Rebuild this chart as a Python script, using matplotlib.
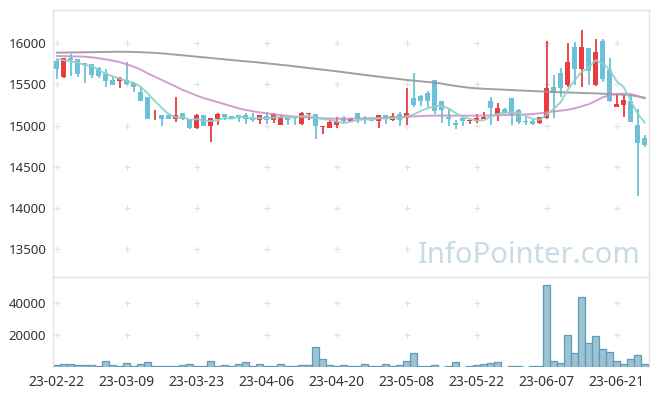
import matplotlib
matplotlib.use("Agg")
import matplotlib.pyplot as plt
import numpy as np

plt.rcParams['font.family'] = ['Noto Sans', 'DejaVu Sans']

# trading days shown on the axis (every 10th candle)
tick_labels = ['23-02-22', '23-03-09', '23-03-23', '23-04-06', '23-04-20',
               '23-05-08', '23-05-22', '23-06-07', '23-06-21']

opens = [15789, 15595, 15822, 15810, 15757, 15749, 15704, 15644, 15555, 15546,
         15559, 15514, 15413, 15348, 15125, 15129, 15129, 15085, 15150, 15085,
         14975, 15125, 15000, 15085, 15137, 15113, 15125, 15125, 15094, 15066,
         15114, 15066, 15006, 15106, 15102, 15022, 15138, 15146, 14982, 14970,
         15006, 15094, 15058, 15158, 15098, 15094, 15054, 15134, 15074, 15146,
         15094, 15339, 15355, 15395, 15555, 15303, 15109, 15036, 15097, 15061,
         15061, 15077, 15299, 15145, 15198, 15332, 15186, 15056, 15060, 15028,
         15097, 15465, 15644, 15494, 15959, 15688, 15943, 15494, 16032, 15676,
         15222, 15251, 15299, 15008, 14850]
highs = [15810, 15818, 15866, 15810, 15757, 15749, 15716, 15688, 15587, 15587,
         15777, 15526, 15474, 15348, 15190, 15129, 15129, 15344, 15150, 15085,
         15141, 15125, 15097, 15150, 15137, 15113, 15125, 15157, 15154, 15134,
         15167, 15154, 15126, 15106, 15102, 15167, 15158, 15146, 14998, 15074,
         15102, 15114, 15090, 15158, 15118, 15094, 15134, 15134, 15154, 15162,
         15453, 15635, 15375, 15415, 15555, 15303, 15198, 15070, 15097, 15069,
         15137, 15170, 15344, 15279, 15210, 15332, 15198, 15101, 15080, 15101,
         16032, 15615, 15696, 16000, 16012, 16162, 15943, 16053, 16053, 15826,
         15392, 15368, 15360, 15198, 14886]
lows = [15563, 15575, 15603, 15595, 15514, 15575, 15575, 15474, 15494, 15453,
        15494, 15413, 15303, 15085, 15069, 15000, 15085, 15048, 15069, 14959,
        14955, 15000, 14797, 15004, 15069, 15077, 15044, 15014, 15042, 15014,
        15014, 15026, 15006, 15006, 15006, 15010, 15074, 14833, 14894, 14970,
        14970, 15034, 15050, 15034, 15014, 15054, 14974, 15014, 15054, 14994,
        15002, 15230, 15235, 15230, 15141, 15028, 14996, 14955, 14996, 15020,
        15028, 15077, 15004, 15056, 15150, 15004, 15016, 15004, 15010, 15016,
        15081, 15089, 15352, 15474, 15494, 15474, 15494, 15482, 15534, 15291,
        15222, 15109, 15048, 14145, 14745]
closes = [15692, 15818, 15798, 15631, 15737, 15619, 15607, 15542, 15494, 15583,
          15506, 15474, 15303, 15085, 15130, 15085, 15085, 15129, 15077, 14975,
          15125, 15000, 15097, 15141, 15101, 15085, 15105, 15077, 15066, 15134,
          15066, 15142, 15106, 15074, 15090, 15158, 15158, 14994, 14998, 15038,
          15062, 15062, 15086, 15094, 15074, 15054, 15134, 15082, 15122, 15066,
          15154, 15250, 15295, 15295, 15182, 15190, 15081, 15008, 15056, 15069,
          15093, 15105, 15218, 15214, 15150, 15129, 15048, 15048, 15024, 15101,
          15453, 15393, 15461, 15769, 15688, 15959, 15668, 15895, 15563, 15303,
          15263, 15311, 15048, 14793, 14769]

volumes = [1050, 1680, 1680, 1050, 1050, 1050, 300, 3580, 1050, 420,
           2300, 420, 1680, 2950, 420, 420, 420, 420, 1050, 1680,
           420, 420, 3580, 420, 1050, 420, 1680, 2950, 420, 1680,
           420, 420, 1680, 420, 420, 1050, 1050, 12400, 4840, 1050,
           420, 1050, 420, 420, 1680, 420, 420, 1680, 420, 1050,
           3580, 8630, 420, 420, 1050, 100, 420, 2950, 100, 420,
           1050, 1680, 2300, 2950, 100, 420, 420, 100, 420, 420,
           51150, 3580, 2300, 20000, 8630, 43370, 14950, 19370, 11160, 9260,
           3580, 1680, 4840, 7370, 1680]

ma5 = [15806, 15795, 15782, 15765, 15735, 15721, 15678, 15627, 15600, 15569,
       15546, 15520, 15472, 15390, 15300, 15215, 15138, 15103, 15101, 15070,
       15078, 15061, 15055, 15068, 15093, 15085, 15106, 15102, 15087, 15093,
       15090, 15097, 15103, 15104, 15096, 15114, 15117, 15095, 15080, 15069,
       15050, 15031, 15049, 15068, 15076, 15074, 15088, 15088, 15093, 15092,
       15112, 15135, 15177, 15212, 15235, 15242, 15209, 15151, 15103, 15081,
       15061, 15066, 15108, 15140, 15156, 15163, 15152, 15118, 15080, 15070,
       15135, 15204, 15286, 15435, 15553, 15654, 15709, 15796, 15755, 15678,
       15538, 15467, 15298, 15144, 15037]
ma20 = [15846, 15844, 15842, 15840, 15838, 15830, 15818, 15805, 15790, 15772,
        15745, 15717, 15680, 15635, 15595, 15555, 15515, 15475, 15433, 15400,
        15365, 15335, 15310, 15285, 15260, 15235, 15210, 15190, 15175, 15160,
        15149, 15138, 15128, 15118, 15110, 15103, 15098, 15093, 15089, 15086,
        15084, 15084, 15085, 15087, 15089, 15090, 15093, 15097, 15100, 15104,
        15108, 15112, 15116, 15120, 15122, 15122, 15122, 15121, 15121, 15121,
        15121, 15122, 15124, 15126, 15128, 15130, 15133, 15136, 15140, 15150,
        15162, 15172, 15182, 15193, 15210, 15235, 15260, 15300, 15344, 15370,
        15384, 15388, 15384, 15360, 15332]
ma60 = [15887, 15888, 15889, 15890, 15891, 15892, 15894, 15895, 15897, 15898,
        15897, 15895, 15892, 15888, 15884, 15878, 15870, 15862, 15855, 15846,
        15838, 15830, 15822, 15813, 15805, 15797, 15789, 15781, 15774, 15766,
        15757, 15748, 15739, 15730, 15720, 15710, 15700, 15690, 15680, 15670,
        15660, 15649, 15638, 15627, 15616, 15605, 15595, 15585, 15575, 15565,
        15555, 15547, 15538, 15530, 15523, 15510, 15495, 15482, 15470, 15460,
        15453, 15448, 15444, 15440, 15436, 15432, 15428, 15424, 15420, 15416,
        15412, 15409, 15406, 15403, 15400, 15397, 15394, 15392, 15388, 15384,
        15380, 15375, 15370, 15355, 15339]

price_ticks = [13500, 14000, 14500, 15000, 15500, 16000]
vol_ticks = [20000, 40000]

UP = '#ec3b3f'
DOWN = '#6cc0da'
FRAME = '#e3e3e3'
GRID = '#e0e0e0'

x = np.arange(len(closes))
o = np.array(opens)
c = np.array(closes)
colors = [UP if cc >= oo else DOWN for oo, cc in zip(o, c)]
body_bottom = np.minimum(o, c)
body_h = np.maximum(np.abs(c - o), 6)

fig = plt.figure(figsize=(6.57, 3.96), dpi=100)
ax = fig.add_axes([0.0811, 0.3005, 0.9063, 0.6742])
axv = fig.add_axes([0.0811, 0.074, 0.9063, 0.2265], sharex=ax)

# price panel
ax.vlines(x, lows, highs, colors=colors, linewidth=1.3, zorder=3)
ax.bar(x, body_h, bottom=body_bottom, width=0.72, color=colors, zorder=4)
ax.plot(x, ma60, color='#969696', linewidth=1.4, alpha=0.9, zorder=5)
ax.plot(x, ma20, color='#cd8cc7', linewidth=1.4, alpha=0.85, zorder=5)
ax.plot(x, ma5, color='#8dd2c4', linewidth=1.4, alpha=0.9, zorder=5)

tick_x = x[::10]
gx, gy = np.meshgrid(tick_x, price_ticks)
ax.plot(gx.ravel(), gy.ravel(), '+', color=GRID, markersize=4.5, mew=0.8, zorder=0)

ax.set_xlim(-0.5, 84.57)
ax.set_ylim(13160, 16405)
ax.set_yticks(price_ticks)
ax.tick_params(axis='y', length=0, pad=5, labelsize=9.5, labelcolor='#333333')
ax.tick_params(axis='x', length=0, labelbottom=False)
for s in ax.spines.values():
    s.set_color(FRAME)
    s.set_linewidth(1)

ax.text(0.80, 0.08, 'InfoPointer.com', transform=ax.transAxes, fontsize=21,
        color='#c9dbe5', ha='center', va='center', zorder=1)

# volume panel
axv.bar(x, volumes, width=1.0, color='#9cc3d4', edgecolor='#5f9bb6', linewidth=0.9)
gx2, gy2 = np.meshgrid(tick_x, vol_ticks)
axv.plot(gx2.ravel(), gy2.ravel(), '+', color=GRID, markersize=4.5, mew=0.8, zorder=0)
axv.set_ylim(0, 56000)
axv.set_yticks(vol_ticks)
axv.set_xticks(tick_x)
axv.set_xticklabels(tick_labels)
axv.tick_params(axis='y', length=0, pad=5, labelsize=9.5, labelcolor='#333333')
axv.tick_params(axis='x', length=0, pad=6, labelsize=10, labelcolor='#333333')
for s in axv.spines.values():
    s.set_color(FRAME)
    s.set_linewidth(1)
axv.spines['bottom'].set_visible(False)

fig.savefig('out.png', dpi=100)
